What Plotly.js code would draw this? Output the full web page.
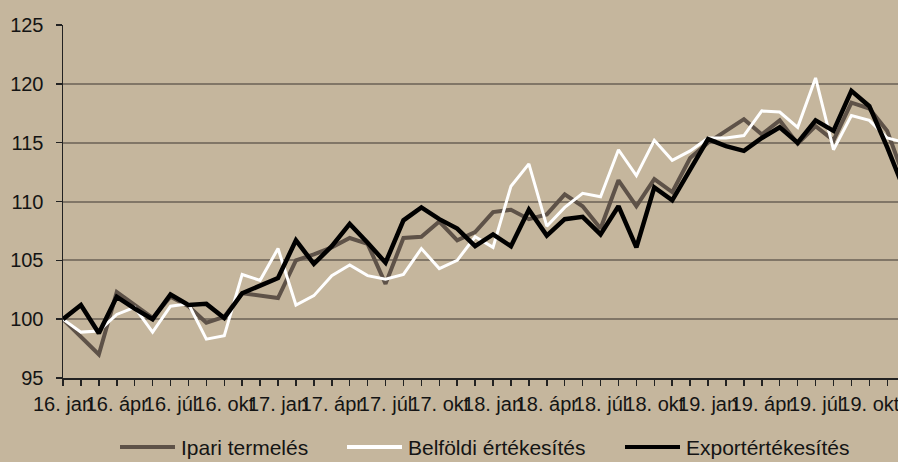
<!DOCTYPE html>
<html>
<head>
<meta charset="utf-8">
<script src="https://cdn.plot.ly/plotly-3.0.1.min.js"></script>
<style>
html,body{margin:0;padding:0;background:#C5B69D;}
#chart{width:898px;height:462px;}
</style>
</head>
<body>
<div id="chart"></div>
<script>
const months = [
  "16. jan","16. febr","16. márc","16. ápr","16. máj","16. jún","16. júl","16. aug","16. szept","16. okt","16. nov","16. dec",
  "17. jan","17. febr","17. márc","17. ápr","17. máj","17. jún","17. júl","17. aug","17. szept","17. okt","17. nov","17. dec",
  "18. jan","18. febr","18. márc","18. ápr","18. máj","18. jún","18. júl","18. aug","18. szept","18. okt","18. nov","18. dec",
  "19. jan","19. febr","19. márc","19. ápr","19. máj","19. jún","19. júl","19. aug","19. szept","19. okt","19. nov","19. dec"
];
const tickLabels = ["16. jan","16. ápr","16. júl","16. okt","17. jan","17. ápr","17. júl","17. okt",
  "18. jan","18. ápr","18. júl","18. okt","19. jan","19. ápr","19. júl","19. okt"];

const ipariTermeles = [
  100.0, 98.5, 97.0, 102.3, 101.2, 100.1, 101.9, 101.1, 99.7, 100.2, 102.2, 102.0,
  101.8, 105.0, 105.5, 106.1, 106.9, 106.4, 103.0, 106.9, 107.0, 108.3, 106.7, 107.4,
  109.1, 109.3, 108.5, 108.9, 110.6, 109.6, 107.7, 111.8, 109.6, 111.9, 110.8, 113.7,
  115.0, 116.0, 117.0, 115.7, 116.9, 114.9, 116.4, 115.2, 118.4, 117.9, 116.0, 111.8
];
const belfoldiErtekesites = [
  100.0, 98.9, 99.0, 100.4, 101.0, 98.9, 101.1, 101.3, 98.3, 98.6, 103.8, 103.3,
  106.0, 101.2, 102.0, 103.7, 104.6, 103.7, 103.4, 103.8, 106.0, 104.3, 105.0, 107.0,
  106.1, 111.3, 113.2, 107.9, 109.5, 110.7, 110.4, 114.4, 112.2, 115.2, 113.5, 114.3,
  115.4, 115.4, 115.6, 117.7, 117.6, 116.3, 120.5, 114.4, 117.3, 116.9, 115.4, 115.0
];
const exportErtekesites = [
  100.0, 101.2, 98.8, 101.9, 100.9, 100.0, 102.1, 101.2, 101.3, 100.1, 102.2, 102.9,
  103.5, 106.7, 104.7, 106.2, 108.1, 106.5, 104.8, 108.4, 109.5, 108.5, 107.7, 106.2,
  107.2, 106.2, 109.3, 107.1, 108.5, 108.7, 107.2, 109.6, 106.1, 111.2, 110.1, 112.7,
  115.3, 114.7, 114.3, 115.4, 116.3, 115.0, 116.9, 116.0, 119.4, 118.1, 114.6, 110.8
];
const seriesNames = ["Ipari termelés","Belföldi értékesítés","Exportértékesítés"];
const seriesColors = ["#5E5248", "#FFFFFF", "#000000"];
const seriesWidths = [4, 3, 4.5];
const seriesValues = [ipariTermeles, belfoldiErtekesites, exportErtekesites];

const bg = "#C5B69D";
const textColor = "#141414";
const fam = "Liberation Sans, Arial, sans-serif";

const traces = seriesValues.map((vals, k) => ({
  x: months, y: vals, name: seriesNames[k], type: "scatter", mode: "lines",
  line: {color: seriesColors[k], width: seriesWidths[k]}, showlegend: false
}));

// legend drawn below the plot (sample line + label per series)
const W = 898, H = 462, mL = 63, mR = 0, mT = 25, mB = 84;
const pw = W - mL - mR, ph = H - mT - mB;
const px2x = p => (p - mL) / pw;
const py2y = p => (H - mB - p) / ph;
const legendLineStart = [120, 347, 625];
const legendLineLen = 55;
const legendY = py2y(447);

const shapes = seriesNames.map((n, k) => ({
  type: "line", xref: "paper", yref: "paper",
  x0: px2x(legendLineStart[k]), x1: px2x(legendLineStart[k] + legendLineLen),
  y0: legendY, y1: legendY,
  line: {color: seriesColors[k], width: 4}
}));
const annotations = seriesNames.map((n, k) => ({
  text: n, xref: "paper", yref: "paper",
  x: px2x(legendLineStart[k] + legendLineLen + 4), y: legendY,
  xanchor: "left", yanchor: "middle", showarrow: false,
  font: {family: fam, size: 21, color: textColor}
}));

const layout = {
  width: W, height: H,
  margin: {l: mL, r: mR, t: mT, b: mB, pad: 0},
  paper_bgcolor: bg, plot_bgcolor: bg,
  font: {family: fam, size: 20, color: textColor},
  showlegend: false,
  shapes: shapes,
  annotations: annotations,
  xaxis: {
    type: "category", range: [0, 46.6], autorange: false,
    tickmode: "array", tickvals: months,
    ticktext: months.map(m => tickLabels.includes(m) ? m : ""),
    tickangle: 0, ticks: "outside", ticklen: 6, tickwidth: 1.5, tickcolor: "#222",
    showline: true, linecolor: "#222", linewidth: 1.5,
    showgrid: false, zeroline: false, ticklabelstandoff: 1,
    tickfont: {family: fam, size: 20, color: textColor},
    fixedrange: true
  },
  yaxis: {
    range: [95, 125], autorange: false, dtick: 5, tick0: 95,
    ticks: "outside", ticklen: 6, tickwidth: 1.5, tickcolor: "#222",
    showline: true, linecolor: "#222", linewidth: 1.5,
    showgrid: true, gridcolor: "#817667", gridwidth: 2,
    zeroline: false, ticklabelstandoff: 8,
    tickfont: {family: fam, size: 20, color: textColor},
    fixedrange: true
  }
};

Plotly.newPlot("chart", traces, layout, {displayModeBar: false, staticPlot: true});
</script>
</body>
</html>
